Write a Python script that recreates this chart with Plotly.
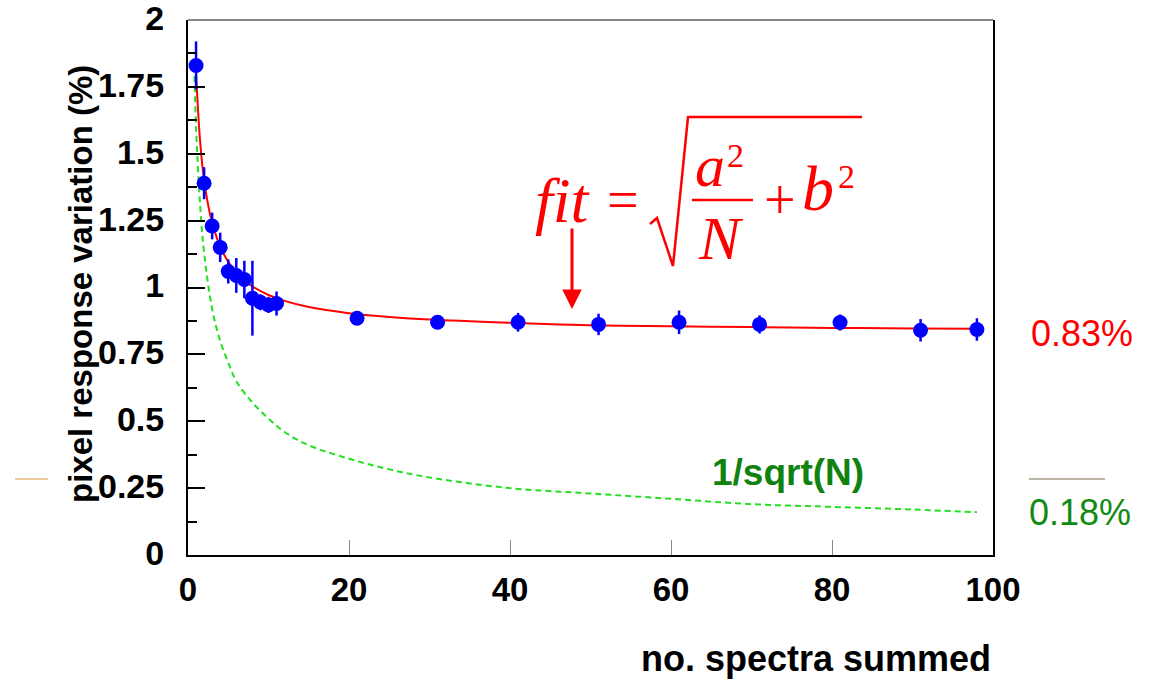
import plotly.graph_objects as go

# ---------------- data ----------------
n_spectra = [1, 2, 3, 4, 5, 6, 7, 8, 9, 10, 11, 21, 31, 41, 51, 61, 71, 81, 91, 98]
variation = [1.83, 1.39, 1.23, 1.15, 1.06, 1.045, 1.03, 0.96, 0.945, 0.935, 0.94,
             0.885, 0.87, 0.87, 0.862, 0.87, 0.862, 0.869, 0.84, 0.843]
variation_err = [0.09, 0.06, 0.05, 0.055, 0.045, 0.065, 0.07, 0.14, 0.03, 0.03, 0.045,
                 0.02, 0.015, 0.035, 0.04, 0.044, 0.034, 0.03, 0.042, 0.042]

fit_n = [1, 1.5, 2, 2.5, 3, 4, 5, 6, 7, 8, 10, 12, 15, 20, 25, 30, 40, 50, 60, 70, 80, 90, 98]
fit_val = [1.80, 1.548, 1.40, 1.309, 1.242, 1.153, 1.096, 1.056, 1.027, 1.004, 0.972, 0.950,
           0.927, 0.904, 0.890, 0.880, 0.868, 0.859, 0.855, 0.852, 0.849, 0.847, 0.846]

sqrt_n = [0.8, 1, 1.5, 2, 3, 4, 5, 6, 8, 10, 12, 15, 20, 25, 30, 40, 50, 60, 70, 80, 90, 98]
sqrt_val = [1.79, 1.60, 1.31, 1.13, 0.92, 0.80, 0.72, 0.65, 0.57, 0.51, 0.46, 0.41, 0.36,
            0.32, 0.29, 0.25, 0.23, 0.21, 0.19, 0.18, 0.17, 0.16]

y_ticks = [0, 0.25, 0.5, 0.75, 1, 1.25, 1.5, 1.75, 2]
y_ticklabels = ["0", "0.25", "0.5", "0.75", "1", "1.25", "1.5", "1.75", "2"]
x_ticks = [0, 20, 40, 60, 80, 100]

# ---------------- layout geometry (page pixels) ----------------
W, H = 1153, 681
L, R, T, B = 188, 993, 20, 555   # plot area in page pixels


def px(xp):
    return (xp - L) / (R - L)


def py(yp):
    return (B - yp) / (B - T)


fig = go.Figure()

fig.add_trace(go.Scatter(x=sqrt_n, y=sqrt_val, mode="lines",
                         line=dict(color="#22E022", width=2, dash="6px,4px", shape="spline"),
                         hoverinfo="skip", showlegend=False))
fig.add_trace(go.Scatter(x=fit_n, y=fit_val, mode="lines",
                         line=dict(color="#FF0000", width=2, shape="spline"),
                         showlegend=False))
fig.add_trace(go.Scatter(x=n_spectra, y=variation, mode="markers",
                         marker=dict(color="#0000FF", size=15, symbol="circle"),
                         error_y=dict(type="data", array=variation_err, color="#0000FF",
                                      thickness=2.5, width=0),
                         showlegend=False))

SANS = "Liberation Sans, Arial, sans-serif"
SERIF = "Liberation Serif, Times New Roman, serif"

fig.update_layout(
    width=W, height=H,
    margin=dict(l=L, r=W - R, t=T, b=H - B, pad=0, autoexpand=False),
    paper_bgcolor="white", plot_bgcolor="white",
    xaxis=dict(range=[0, 100], tickvals=x_ticks, ticks="inside", ticklen=15,
               tickcolor="#888888", tickwidth=1, showgrid=False, zeroline=False,
               showline=True, linecolor="black", linewidth=2, mirror=False,
               automargin=False, ticklabeloverflow="allow",
               tickfont=dict(family=SANS, size=33, color="black", weight="bold"),
               ticklabelstandoff=4),
    yaxis=dict(range=[0, 2], tickvals=y_ticks, ticktext=y_ticklabels, ticks="inside",
               ticklen=17, tickcolor="black", tickwidth=2, showgrid=False, zeroline=False,
               showline=True, linecolor="black", linewidth=2, mirror=True,
               automargin=False, ticklabeloverflow="allow", ticklabelshift=-2,
               minor=dict(dtick=0.125, ticks="inside", ticklen=9, tickcolor="black",
                          tickwidth=2, showgrid=False),
               tickfont=dict(family=SANS, size=34, color="black", weight="bold"),
               ticklabelstandoff=15),
)

shapes = []
# gray top frame line
shapes.append(dict(type="line", xref="paper", yref="paper", x0=0, x1=1, y0=1, y1=1,
                   line=dict(color="#888888", width=2)))
# stray thin lines at left and right
shapes.append(dict(type="line", xref="paper", yref="paper", x0=px(15), x1=px(48),
                   y0=py(479), y1=py(479), line=dict(color="#E09A35", width=1)))
shapes.append(dict(type="line", xref="paper", yref="paper", x0=px(1029), x1=px(1105),
                   y0=py(479), y1=py(479), line=dict(color="#7A6A55", width=1)))
# radical sign
rad_pts = [(650, 224), (657, 218), (673, 266), (688, 117), (862, 117)]
path = "M " + " L ".join(f"{px(a):.5f},{py(b):.5f}" for a, b in rad_pts)
shapes.append(dict(type="path", xref="paper", yref="paper", path=path,
                   line=dict(color="#FF0000", width=2.5)))
# fraction bar
shapes.append(dict(type="line", xref="paper", yref="paper", x0=px(692), x1=px(753),
                   y0=py(200), y1=py(200), line=dict(color="#FF0000", width=2.5)))
fig.update_layout(shapes=shapes)


def txt(text, xp, yp, size, color="#FF0000", family=SERIF, italic=False, bold=False,
        xanchor="center", angle=0):
    fig.add_annotation(text=text, x=px(xp), y=py(yp), xref="paper", yref="paper",
                       showarrow=False, xanchor=xanchor, yanchor="middle", textangle=angle,
                       font=dict(family=family, size=size, color=color,
                                 style="italic" if italic else "normal",
                                 weight="bold" if bold else "normal"))


# formula
txt("fit", 563, 200, 64, italic=True)
txt("=", 623, 200, 56)
txt("a", 710, 166, 60, italic=True)
txt("2", 735, 155, 34)
txt("N", 721, 238, 62, italic=True)
txt("+", 780, 200, 56)
txt("b", 818, 188, 64, italic=True)
txt("2", 846, 177, 34)

# arrow
fig.add_annotation(x=px(572), y=py(309), xref="paper", yref="paper", text="",
                   showarrow=True, ax=0, ay=-82, axref="pixel", ayref="pixel",
                   arrowhead=2, arrowsize=1.3, arrowwidth=3, arrowcolor="#FF0000")

# labels
txt("1/sqrt(N)", 788, 473, 37, color="#0F820F", family=SANS, bold=True)
txt("0.83%", 1082, 333, 36, color="#FF0000", family=SANS)
txt("0.18%", 1080, 512, 36, color="#138A13", family=SANS)

# axis titles
txt("pixel response variation (%)", 80, 284, 33, color="black", family=SANS, bold=True,
    angle=-90)
txt("no. spectra summed", 993, 658, 36, color="black", family=SANS, bold=True,
    xanchor="right")

fig.write_html("out.html",
               config={"displayModeBar": False},
               post_script="document.body.style.margin='0';"
                           "document.body.style.overflow='hidden';")
